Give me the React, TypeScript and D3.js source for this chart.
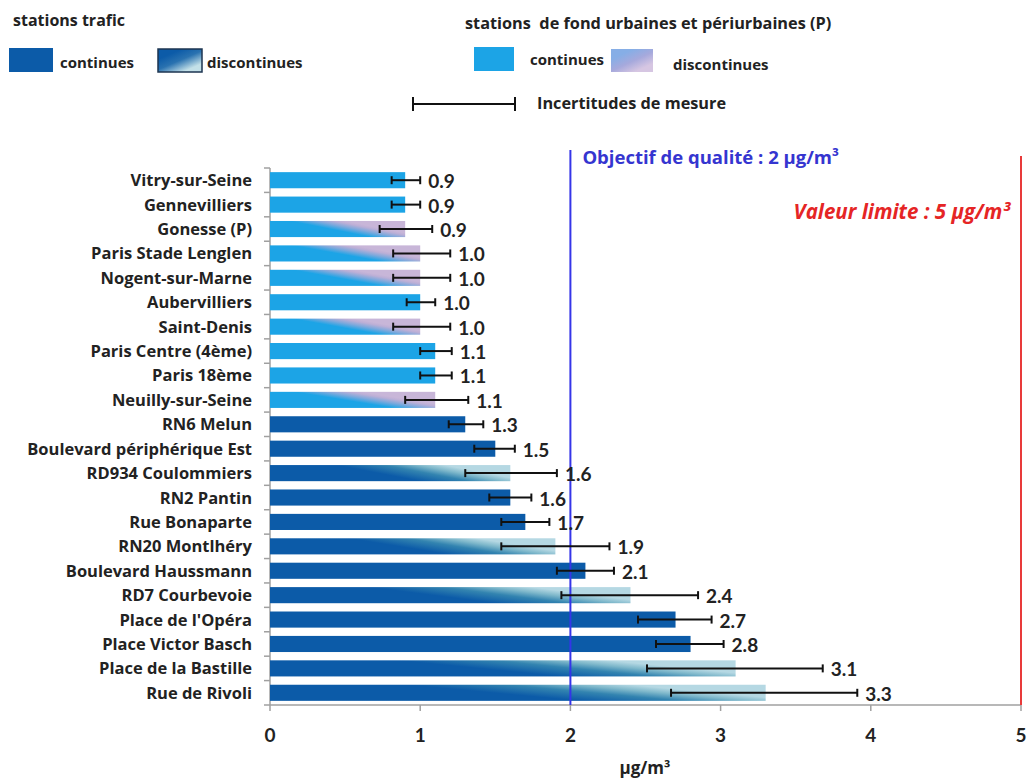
import React from "react";
import * as d3 from "d3";

const categories = [
  "Vitry-sur-Seine", "Gennevilliers", "Gonesse (P)", "Paris Stade Lenglen", "Nogent-sur-Marne",
  "Aubervilliers", "Saint-Denis", "Paris Centre (4ème)", "Paris 18ème", "Neuilly-sur-Seine",
  "RN6 Melun", "Boulevard périphérique Est", "RD934 Coulommiers", "RN2 Pantin", "Rue Bonaparte",
  "RN20 Montlhéry", "Boulevard Haussmann", "RD7 Courbevoie", "Place de l'Opéra", "Place Victor Basch",
  "Place de la Bastille", "Rue de Rivoli",
];
const values = [0.9, 0.9, 0.9, 1.0, 1.0, 1.0, 1.0, 1.1, 1.1, 1.1, 1.3, 1.5, 1.6, 1.6, 1.7, 1.9, 2.1, 2.4, 2.7, 2.8, 3.1, 3.3];
const errLow = [0.81, 0.81, 0.73, 0.82, 0.82, 0.91, 0.82, 1.0, 1.0, 0.9, 1.19, 1.36, 1.3, 1.46, 1.54, 1.54, 1.91, 1.94, 2.45, 2.57, 2.51, 2.67];
const errHigh = [1.0, 1.0, 1.08, 1.2, 1.2, 1.1, 1.2, 1.21, 1.21, 1.32, 1.42, 1.63, 1.91, 1.74, 1.86, 2.26, 2.29, 2.85, 2.94, 3.02, 3.68, 3.91];
const network = [
  "fond", "fond", "fond", "fond", "fond", "fond", "fond", "fond", "fond", "fond",
  "trafic", "trafic", "trafic", "trafic", "trafic", "trafic", "trafic", "trafic", "trafic", "trafic", "trafic", "trafic",
];
const discontinuous = [
  false, false, true, true, true, false, true, false, false, true,
  false, false, true, false, false, true, false, true, false, false, true, true,
];
const xTicks = [0, 1, 2, 3, 4, 5];
const objectiveValue = 2;
const limitValue = 5;

const FONT = "'Open Sans', 'DejaVu Sans', sans-serif";
const NUMFONT = "Lato, 'Open Sans', sans-serif";
const DARK = "#0c5ba8";
const LIGHTBLUE = "#1ca4e6";
const TXT = "#222";

export default function App() {
  const W = 1028, H = 778;
  const x = d3.scaleLinear().domain([0, 5]).range([270, 1021]);
  const y = d3.scaleBand<string>().domain(categories).range([168, 705]).paddingInner(0.34).paddingOuter(0.17);
  const boundaries = d3.range(categories.length + 1).map((i) => 168 + i * ((705 - 168) / categories.length));
  const fillFor = (i: number) => {
    if (network[i] === "trafic") return discontinuous[i] ? "url(#gTrafic)" : DARK;
    return discontinuous[i] ? "url(#gFond)" : LIGHTBLUE;
  };
  const bh = y.bandwidth();

  return (
    <svg width={W} height={H} style={{ position: "absolute", left: 0, top: 0, background: "#fff" }} fontFamily={FONT}>
      <defs>
        <linearGradient id="gTrafic" x1="0.475" y1="0.57" x2="0.875" y2="0.43">
          <stop offset="0" stopColor="#0c5ba8" />
          <stop offset="0.45" stopColor="#3384b0" />
          <stop offset="0.75" stopColor="#7fb8cb" />
          <stop offset="1" stopColor="#b5d8e3" />
        </linearGradient>
        <linearGradient id="gFond" x1="0.5" y1="0.59" x2="0.8" y2="0.41">
          <stop offset="0" stopColor="#1ca4e6" />
          <stop offset="0.45" stopColor="#7fa9dc" />
          <stop offset="0.8" stopColor="#bcafd6" />
          <stop offset="1" stopColor="#c8b6d8" />
        </linearGradient>
        <linearGradient id="gLegTrafic" x1="0.3" y1="0.2" x2="0.8" y2="0.8">
          <stop offset="0" stopColor="#0c5ba8" />
          <stop offset="0.45" stopColor="#2a72b0" />
          <stop offset="1" stopColor="#c3e0e8" />
        </linearGradient>
        <linearGradient id="gLegFond" x1="0.3" y1="0.2" x2="0.8" y2="0.8">
          <stop offset="0" stopColor="#86aee6" />
          <stop offset="0.5" stopColor="#a6a9dc" />
          <stop offset="1" stopColor="#d6c6e2" />
        </linearGradient>
      </defs>

      {/* Legend */}
      <text x={13} y={26} fontSize={16} fontWeight={700} fill={TXT}>stations trafic</text>
      <rect x={9} y={48} width={44} height={24} fill={DARK} />
      <text x={60} y={68} fontSize={15} fontWeight={700} fill={TXT}>continues</text>
      <rect x={158} y={49} width={44} height={23} fill="url(#gLegTrafic)" stroke="#1d3550" strokeWidth={1.5} />
      <text x={207} y={68} fontSize={15} fontWeight={700} fill={TXT}>discontinues</text>

      <text x={465} y={29} fontSize={16.3} fontWeight={700} fill={TXT} style={{ whiteSpace: "pre" }}>stations  de fond urbaines et périurbaines (P)</text>
      <rect x={474} y={47} width={40} height={24} fill={LIGHTBLUE} />
      <text x={530} y={65} fontSize={15} fontWeight={700} fill={TXT}>continues</text>
      <rect x={611} y={49} width={42} height={23} fill="url(#gLegFond)" />
      <text x={673} y={70} fontSize={15} fontWeight={700} fill={TXT}>discontinues</text>

      <line x1={413} x2={515} y1={104} y2={104} stroke="#111" strokeWidth={2} />
      <line x1={413} x2={413} y1={97} y2={111} stroke="#111" strokeWidth={2} />
      <line x1={515} x2={515} y1={97} y2={111} stroke="#111" strokeWidth={2} />
      <text x={537} y={109} fontSize={16.3} fontWeight={700} fill={TXT}>Incertitudes de mesure</text>

      {/* Axes */}
      <line x1={x(0)} x2={x(0)} y1={boundaries[0]} y2={705} stroke="#a0a0a0" strokeWidth={1.5} />
      {boundaries.map((b, i) => (
        <line key={"yt" + i} x1={x(0) - 6} x2={x(0)} y1={b} y2={b} stroke="#a0a0a0" strokeWidth={1.5} />
      ))}
      <line x1={x(0)} x2={x(5)} y1={705} y2={705} stroke="#a0a0a0" strokeWidth={1.5} />
      {xTicks.map((t) => (
        <g key={"xt" + t}>
          <line x1={x(t)} x2={x(t)} y1={705} y2={711} stroke="#a0a0a0" strokeWidth={1.5} />
          <text x={x(t)} y={742} textAnchor="middle" fontFamily={NUMFONT} fontSize={19} fontWeight={700} fill={TXT}>{t}</text>
        </g>
      ))}
      <text x={645} y={774} textAnchor="middle" fontSize={17} fontWeight={700} fill={TXT}>µg/m³</text>

      {/* Bars */}
      {categories.map((c, i) => (
        <rect key={"b" + i} x={x(0)} y={y(c)!} width={x(values[i]) - x(0)} height={bh} fill={fillFor(i)} />
      ))}

      {/* Threshold lines */}
      <line x1={x(objectiveValue)} x2={x(objectiveValue)} y1={150} y2={705} stroke="#3535e8" strokeWidth={2} />
      <line x1={x(limitValue)} x2={x(limitValue)} y1={156} y2={705} stroke="#e83a3a" strokeWidth={2} />
      <text x={x(objectiveValue) + 12} y={164} fontSize={18.5} fontWeight={700} fill="#3535d0">Objectif de qualité : 2 µg/m³</text>
      <text x={x(limitValue) - 11} y={219} textAnchor="end" fontSize={20.5} fontWeight={700} fontStyle="italic" fill="#e52525">Valeur limite : 5 µg/m³</text>

      {/* Error bars */}
      {categories.map((c, i) => {
        const cy = y(c)! + bh / 2;
        return (
          <g key={"e" + i} stroke="#111" strokeWidth={2}>
            <line x1={x(errLow[i])} x2={x(errHigh[i])} y1={cy} y2={cy} />
            <line x1={x(errLow[i])} x2={x(errLow[i])} y1={cy - 4} y2={cy + 4} />
            <line x1={x(errHigh[i])} x2={x(errHigh[i])} y1={cy - 4} y2={cy + 4} />
          </g>
        );
      })}

      {/* Value labels */}
      {categories.map((c, i) => (
        <text key={"v" + i} x={x(errHigh[i]) + 8} y={y(c)! + bh / 2 + 8} fontFamily={NUMFONT} fontSize={19} fontWeight={700} fill={TXT}>
          {values[i].toFixed(1)}
        </text>
      ))}

      {/* Category labels */}
      {categories.map((c) => (
        <text key={"c" + c} x={252} y={y(c)! + bh / 2 + 6} textAnchor="end" fontSize={16.5} fontWeight={700} fill={TXT}>
          {c}
        </text>
      ))}
    </svg>
  );
}
